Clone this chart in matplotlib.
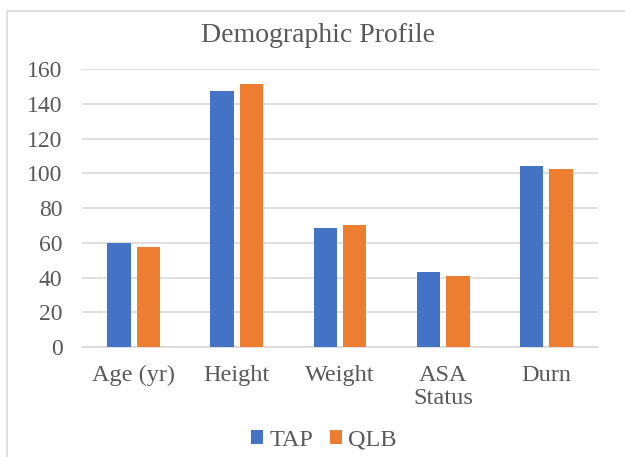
import numpy as np
import matplotlib.pyplot as plt
from matplotlib.patches import Rectangle

categories = ["Age (yr)", "Height", "Weight", "ASA\nStatus", "Durn"]
tap = [60, 147.6, 68.6, 42.9, 104.3]
qlb = [57.5, 151.2, 70.1, 40.9, 102.2]

plt.rcParams['font.family'] = ['Liberation Serif', 'DejaVu Serif']
text_col = "#595959"

fig = plt.figure(figsize=(6.25, 4.57), dpi=100)
ax = fig.add_axes([0.1312, 0.2407, 0.8256, 0.6083])

# outer chart border like Excel
fig.patches.append(Rectangle((7 / 625, -0.1), 1.2, 1 - 11 / 457 + 0.1,
                             transform=fig.transFigure, fill=False,
                             edgecolor="#D9D9D9", linewidth=1.2))

x = np.arange(len(categories))
w = 0.226
gap = 0.058
ax.bar(x - (w + gap) / 2, tap, w, color="#4472C4", label="TAP", zorder=3)
ax.bar(x + (w + gap) / 2, qlb, w, color="#ED7D31", label="QLB", zorder=3)

ax.set_xlim(-0.5, len(categories) - 0.5)
ax.set_ylim(0, 160)
ax.set_yticks(range(0, 161, 20))
ax.yaxis.grid(True, color="#D9D9D9", linewidth=1.2, zorder=0)
ax.set_xticks(x)
ax.set_xticklabels(categories, fontsize=17.5, color=text_col, linespacing=1.1)
ax.tick_params(axis="y", labelsize=17, labelcolor=text_col, length=0, pad=14)
ax.tick_params(axis="x", length=0, pad=13)
for s in ["top", "right", "left"]:
    ax.spines[s].set_visible(False)
ax.spines["bottom"].set_color("#D9D9D9")
ax.spines["bottom"].set_linewidth(1.2)

fig.text(0.509, 1 - 35 / 457, "Demographic Profile", ha="center", va="center",
         fontsize=20, color=text_col)

fig.legend(loc="center", bbox_to_anchor=(0.518, 1 - 440 / 457), ncol=2,
           frameon=False, prop={"family": "Liberation Serif", "size": 17.5},
           handlelength=0.5, handleheight=0.5,
           handletextpad=0.25, columnspacing=0.67, labelcolor=text_col)

plt.savefig("out.png", dpi=100)
